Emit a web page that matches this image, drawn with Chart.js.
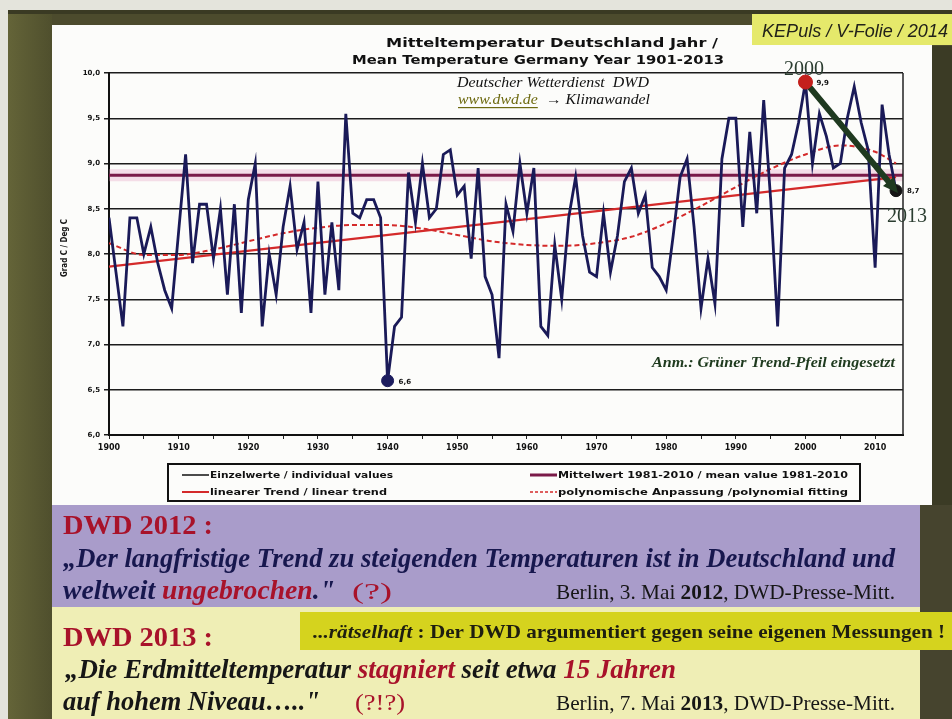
<!DOCTYPE html>
<html>
<head>
<meta charset="utf-8">
<script src="https://cdn.jsdelivr.net/npm/chart.js@4.4.1/dist/chart.umd.min.js"></script>
<style>
  html, body { margin: 0; padding: 0; background: #e4e4dc; }
  #wrap { width: 952px; height: 719px; }
</style>
</head>
<body>
<div id="wrap"><canvas id="chart" width="952" height="719"></canvas></div>
<script>
// Annual mean temperature Germany (DWD)
const firstYear = 1900;
const temps = [
  8.4, 7.8, 7.2, 8.4, 8.4, 8.0, 8.3, 7.9, 7.6, 7.4,      // 1900-1909
  8.25, 9.1, 7.9, 8.55, 8.55, 7.95, 8.5, 7.55, 8.55, 7.35, // 1910-1919
  8.6, 9.0, 7.2, 8.0, 7.55, 8.3, 8.75, 8.05, 8.35, 7.35,  // 1920-1929
  8.8, 7.55, 8.35, 7.6, 9.55, 8.45, 8.4, 8.6, 8.6, 8.4,   // 1930-1939
  6.6, 7.2, 7.3, 8.9, 8.35, 9.0, 8.4, 8.5, 9.1, 9.15,     // 1940-1949
  8.65, 8.75, 7.95, 8.95, 7.75, 7.55, 6.85, 8.55, 8.25, 9.0, // 1950-1959
  8.45, 8.95, 7.2, 7.1, 8.1, 7.5, 8.4, 8.85, 8.2, 7.8,    // 1960-1969
  7.75, 8.45, 7.8, 8.2, 8.8, 8.95, 8.45, 8.65, 7.85, 7.75, // 1970-1979
  7.6, 8.2, 8.85, 9.05, 8.3, 7.4, 7.95, 7.45, 9.05, 9.5,  // 1980-1989
  9.5, 8.3, 9.35, 8.45, 9.7, 8.6, 7.2, 8.95, 9.1, 9.45,   // 1990-1999
  9.9, 9.0, 9.55, 9.3, 8.95, 9.0, 9.5, 9.85, 9.45, 9.15,  // 2000-2009
  7.85, 9.65, 9.1, 8.7                                    // 2010-2013
];

// mean value 1981-2010
const meanYears = [1900, 2014];
const meanValues = [8.87, 8.87];

// linear trend
const trendYears = [1900, 2013];
const trendValues = [7.86, 8.85];

// polynomial fitting (read every 5 years)
const polyYears = [1900, 1905, 1910, 1915, 1920, 1925, 1930, 1935, 1940, 1945, 1950, 1955,
                   1960, 1965, 1970, 1975, 1980, 1985, 1990, 1995, 2000, 2005, 2010, 2013];
const polyValues = [8.12, 7.99, 7.99, 8.05, 8.14, 8.23, 8.29, 8.32, 8.32, 8.28, 8.21, 8.14,
                    8.1, 8.09, 8.12, 8.19, 8.34, 8.53, 8.74, 8.94, 9.1, 9.2, 9.13, 9.0];

// green trend arrow 2000 -> 2013 and marked points
const arrowYears = [2000, 2013];
const arrowValues = [9.9, 8.7];
const markYears = [1940, 2000, 2013];
const markValues = [6.6, 9.9, 8.7];
const markLabels = ['6,6', '9,9', '8,7'];

const SERIF = '"Liberation Serif", "Times New Roman", serif';
const SANS = '"Liberation Sans", Arial, sans-serif';
const WIDE = '"DejaVu Sans", Verdana, sans-serif';

const pts = (xs, ys) => xs.map((x, i) => ({ x: x, y: ys[i] }));

// draw a row of text runs, squeezed/stretched to a given width
function fitText(ctx, runs, x, y, width) {
    let total = 0;
    runs.forEach(r => { ctx.font = r.font; r.w = ctx.measureText(r.t).width; total += r.w; });
    const sx = width ? width / total : 1;
    ctx.save();
    ctx.translate(x, y);
    ctx.scale(sx, 1);
    let cx = 0;
    runs.forEach(r => {
        ctx.font = r.font;
        ctx.fillStyle = r.color;
        ctx.fillText(r.t, cx, 0);
        if (r.underline) {
            ctx.fillRect(cx, 3, r.w, 1.2);
        }
        cx += r.w;
    });
    ctx.restore();
}

const slidePlugin = {
    id: 'slide',
    beforeDraw(chart) {
        const ctx = chart.ctx;
        ctx.save();
        ctx.fillStyle = '#e4e4dc';
        ctx.fillRect(0, 0, 952, 719);
        // olive frame
        const g = ctx.createLinearGradient(8, 0, 52, 0);
        g.addColorStop(0, '#646438');
        g.addColorStop(1, '#4f4f2d');
        ctx.fillStyle = '#4c4b2d';
        ctx.fillRect(8, 10, 944, 709);
        ctx.fillStyle = g;
        ctx.fillRect(8, 10, 44, 709);
        ctx.fillStyle = '#3a3a23';
        ctx.fillRect(8, 10, 944, 4);
        // white chart panel
        ctx.fillStyle = '#fcfcfa';
        ctx.fillRect(52, 25, 880, 480);
        ctx.fillStyle = '#3b3b25';
        ctx.fillRect(932, 46, 20, 460);
        ctx.fillStyle = '#46442e';
        ctx.fillRect(920, 505, 32, 214);
        // quote boxes
        ctx.fillStyle = '#a99cca';
        ctx.fillRect(52, 505, 868, 102);
        ctx.fillStyle = '#efeeb5';
        ctx.fillRect(52, 607, 868, 112);
        ctx.fillStyle = '#d5d31e';
        ctx.fillRect(300, 612, 652, 38);
        ctx.fillStyle = '#e5e96b';
        ctx.fillRect(752, 14, 200, 31);
        ctx.restore();
    },
    afterDatasetsDraw(chart) {
        const ctx = chart.ctx;
        const xs = chart.scales.x, ys = chart.scales.y;
        const a = chart.chartArea;
        ctx.save();
        // right frame line
        ctx.strokeStyle = '#222';
        ctx.lineWidth = 1.5;
        ctx.beginPath();
        ctx.moveTo(a.right, a.top);
        ctx.lineTo(a.right, a.bottom);
        ctx.stroke();
        // arrow head
        const x0 = xs.getPixelForValue(arrowYears[0]), y0 = ys.getPixelForValue(arrowValues[0]);
        const x1 = xs.getPixelForValue(arrowYears[1]), y1 = ys.getPixelForValue(arrowValues[1]);
        const ang = Math.atan2(y1 - y0, x1 - x0);
        ctx.fillStyle = '#1f3a20';
        ctx.translate(x1 + 3 * Math.cos(ang), y1 + 3 * Math.sin(ang));
        ctx.rotate(ang);
        ctx.beginPath();
        ctx.moveTo(0, 0);
        ctx.lineTo(-15, -7);
        ctx.lineTo(-15, 7);
        ctx.closePath();
        ctx.fill();
        ctx.restore();
        // point labels
        ctx.save();
        ctx.font = 'bold 7px ' + WIDE;
        ctx.fillStyle = '#111';
        ctx.textBaseline = 'middle';
        markYears.forEach((yr, i) => {
            ctx.fillText(markLabels[i], xs.getPixelForValue(yr) + 11, ys.getPixelForValue(markValues[i]) + 1);
        });
        ctx.restore();
    },
    afterDraw(chart) {
        const ctx = chart.ctx;
        ctx.save();
        ctx.textBaseline = 'alphabetic';
        // slide tag
        fitText(ctx, [{ t: 'KEPuls / V-Folie / 2014', font: 'italic 18px ' + SANS, color: '#22221a' }], 762, 37, 186);
        // chart title
        fitText(ctx, [{ t: 'Mitteltemperatur Deutschland Jahr /', font: 'bold 13px ' + WIDE, color: '#111' }], 386, 47, 332);
        fitText(ctx, [{ t: 'Mean Temperature Germany Year 1901-2013', font: 'bold 13px ' + WIDE, color: '#111' }], 352, 64, 372);
        fitText(ctx, [{ t: 'Deutscher Wetterdienst  DWD', font: 'italic 15px ' + SERIF, color: '#111' }], 457, 87, 192);
        fitText(ctx, [
            { t: 'www.dwd.de', font: 'italic 14px ' + SERIF, color: '#6e6a10', underline: true },
            { t: '  \u2192 ', font: 'bold 14px ' + SERIF, color: '#111' },
            { t: 'Klimawandel', font: 'italic 14px ' + SERIF, color: '#111' }
        ], 458, 104, 192);
        fitText(ctx, [{ t: 'Anm.: Grüner Trend-Pfeil eingesetzt', font: 'bold italic 14px ' + SERIF, color: '#1e3a1e' }], 652, 367, 243);
        // year marks for the arrow
        ctx.font = '20px ' + SERIF;
        ctx.fillStyle = '#2b3d30';
        ctx.fillText('2000', 784, 75);
        ctx.fillText('2013', 887, 222);
        // y axis title
        ctx.save();
        ctx.translate(67, 248);
        ctx.rotate(-Math.PI / 2);
        fitText(ctx, [{ t: 'Grad C / Deg C', font: 'bold 8px ' + WIDE, color: '#111' }], -29, 0, 58);
        ctx.restore();
        // legend
        ctx.strokeStyle = '#111';
        ctx.lineWidth = 2;
        ctx.strokeRect(168, 464, 692, 37);
        const legendRows = [
            { x: 182, y: 475, color: '#111', w: 1.5, dash: [], t: 'Einzelwerte / individual values', tw: 183 },
            { x: 530, y: 475, color: '#7a1a48', w: 3, dash: [], t: 'Mittelwert 1981-2010 / mean value 1981-2010', tw: 290 },
            { x: 182, y: 492, color: '#d42a2a', w: 2, dash: [], t: 'linearer Trend / linear trend', tw: 177 },
            { x: 530, y: 492, color: '#d42a2a', w: 1.5, dash: [3, 2], t: 'polynomische Anpassung /polynomial fitting', tw: 290 }
        ];
        legendRows.forEach(r => {
            ctx.strokeStyle = r.color;
            ctx.lineWidth = r.w;
            ctx.setLineDash(r.dash);
            ctx.beginPath();
            ctx.moveTo(r.x, r.y);
            ctx.lineTo(r.x + 27, r.y);
            ctx.stroke();
            ctx.setLineDash([]);
            fitText(ctx, [{ t: r.t, font: 'bold 9px ' + WIDE, color: '#111' }], r.x + 28, r.y + 3, r.tw);
        });
        // quotes
        const BI = 'bold italic 27px ' + SERIF;
        const RED = '#a8122a', NAVY = '#17174e', BLK = '#161616';
        fitText(ctx, [{ t: 'DWD 2012 :', font: 'bold 28px ' + SERIF, color: RED }], 63, 534, 150);
        fitText(ctx, [{ t: '\u201EDer langfristige Trend zu steigenden Temperaturen ist in Deutschland und', font: BI, color: NAVY }], 63, 567, 832);
        fitText(ctx, [
            { t: 'weltweit ', font: BI, color: NAVY },
            { t: 'ungebrochen', font: BI, color: RED },
            { t: '."', font: BI, color: NAVY }
        ], 63, 599, 272);
        fitText(ctx, [{ t: '(?)', font: '24px ' + SERIF, color: RED }], 352, 599, 40);
        fitText(ctx, [
            { t: 'Berlin, 3. Mai ', font: '21px ' + SERIF, color: BLK },
            { t: '2012', font: 'bold 21px ' + SERIF, color: BLK },
            { t: ', DWD-Presse-Mitt.', font: '21px ' + SERIF, color: BLK }
        ], 556, 599, 339);
        fitText(ctx, [{ t: 'DWD 2013 :', font: 'bold 28px ' + SERIF, color: RED }], 63, 646, 150);
        fitText(ctx, [
            { t: '...rätselhaft', font: 'bold italic 19px ' + SERIF, color: '#1e1e10' },
            { t: ' : Der DWD argumentiert gegen seine eigenen Messungen !', font: 'bold 19px ' + SERIF, color: '#1e1e10' }
        ], 313, 638, 632);
        fitText(ctx, [
            { t: '\u201EDie Erdmitteltemperatur ', font: BI, color: BLK },
            { t: 'stagniert', font: BI, color: RED },
            { t: ' seit etwa ', font: BI, color: BLK },
            { t: '15 Jahren', font: BI, color: RED }
        ], 65, 678, 611);
        fitText(ctx, [{ t: 'auf hohem Niveau….."', font: BI, color: BLK }], 63, 710, 257);
        fitText(ctx, [{ t: '(?!?)', font: '24px ' + SERIF, color: RED }], 355, 710, 50);
        fitText(ctx, [
            { t: 'Berlin, 7. Mai ', font: '21px ' + SERIF, color: BLK },
            { t: '2013', font: 'bold 21px ' + SERIF, color: BLK },
            { t: ', DWD-Presse-Mitt.', font: '21px ' + SERIF, color: BLK }
        ], 556, 710, 339);
        ctx.restore();
    }
};

const ctx = document.getElementById('chart').getContext('2d');

new Chart(ctx, {
    type: 'line',
    data: {
        datasets: [
            {
                label: 'marks',
                data: pts(markYears, markValues),
                showLine: false,
                pointRadius: [6, 7, 6],
                pointBackgroundColor: ['#1c1c5e', '#c4201c', '#151515'],
                pointBorderColor: ['#1c1c5e', '#c4201c', '#151515'],
                clip: false,
                order: 0
            },
            {
                label: 'Trend-Pfeil',
                data: pts(arrowYears, arrowValues),
                borderColor: '#1f3a20',
                borderWidth: 6,
                pointRadius: 0,
                borderCapStyle: 'round',
                clip: false,
                order: 1
            },
            {
                label: 'Einzelwerte / individual values',
                data: temps.map((t, i) => ({ x: firstYear + i, y: t })),
                borderColor: '#1a1a58',
                borderWidth: 2.8,
                pointRadius: 0,
                tension: 0,
                order: 2
            },
            {
                label: 'linearer Trend / linear trend',
                data: pts(trendYears, trendValues),
                borderColor: '#d42a2a',
                borderWidth: 2.2,
                pointRadius: 0,
                order: 3
            },
            {
                label: 'polynomische Anpassung /polynomial fitting',
                data: pts(polyYears, polyValues),
                borderColor: '#d42a2a',
                borderWidth: 2,
                borderDash: [5, 3],
                pointRadius: 0,
                cubicInterpolationMode: 'monotone',
                order: 4
            },
            {
                label: 'Mittelwert 1981-2010 / mean value 1981-2010',
                data: pts(meanYears, meanValues),
                borderColor: '#7a1a48',
                borderWidth: 3,
                pointRadius: 0,
                order: 5
            },
            {
                label: 'halo',
                data: pts(meanYears, meanValues),
                borderColor: 'rgba(226,150,190,0.3)',
                borderWidth: 12,
                pointRadius: 0,
                order: 6
            }
        ]
    },
    options: {
        responsive: false,
        animation: false,
        devicePixelRatio: 1,
        layout: { padding: { left: 0, right: 49, top: 73, bottom: 258 } },
        plugins: {
            legend: { display: false },
            tooltip: { enabled: false }
        },
        scales: {
            x: {
                type: 'linear',
                min: 1900,
                max: 2014,
                grid: { drawOnChartArea: false, drawTicks: true, tickLength: 4, color: '#222' },
                border: { display: true, color: '#111', width: 2 },
                ticks: {
                    stepSize: 5,
                    includeBounds: false,
                    autoSkip: false,
                    maxRotation: 0,
                    padding: 4,
                    color: '#111',
                    font: { family: WIDE, size: 8, weight: 'bold' },
                    callback: v => (v % 10 === 0 ? String(v) : '')
                },
                afterFit: s => { s.height = 26; }
            },
            y: {
                min: 6,
                max: 10,
                grid: { color: '#1c1c1c', lineWidth: 1.5, tickLength: 5 },
                border: { display: true, color: '#111', width: 2 },
                ticks: {
                    stepSize: 0.5,
                    padding: 4,
                    color: '#111',
                    font: { family: WIDE, size: 7, weight: 'bold' },
                    callback: v => v.toFixed(1).replace('.', ',')
                },
                afterFit: s => { s.width = 109; }
            }
        }
    },
    plugins: [slidePlugin]
});
</script>
</body>
</html>
